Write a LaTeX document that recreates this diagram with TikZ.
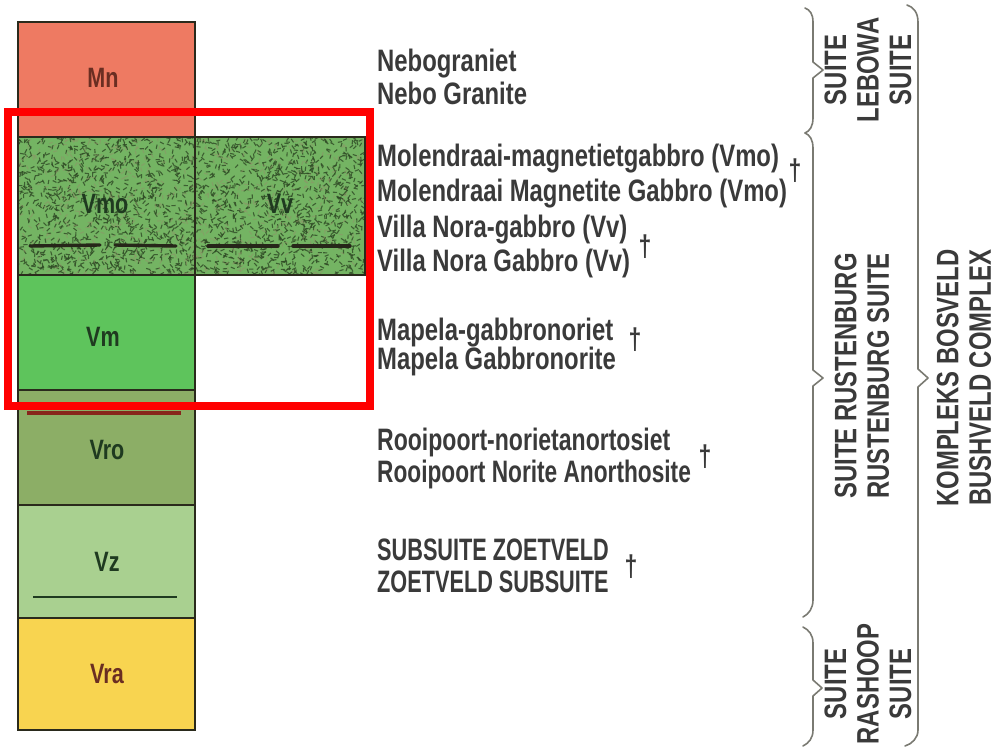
\documentclass[tikz,border=0pt]{standalone}
\usepackage{fontspec}
\setmainfont{Liberation Sans}[FakeStretch=0.77]
\newfontfamily\capsfont{Liberation Sans}[FakeStretch=0.70]
\definecolor{mncol}{HTML}{EE7A62}
\definecolor{vmocol}{HTML}{74B463}
\definecolor{vmcol}{HTML}{5EC45C}
\definecolor{vrocol}{HTML}{8CAE66}
\definecolor{vzcol}{HTML}{A9D090}
\definecolor{vracol}{HTML}{F8D450}
\definecolor{edgecol}{HTML}{2A2A1C}
\definecolor{txtcol}{HTML}{3A3A3A}
\definecolor{greentxt}{HTML}{1F3A20}
\definecolor{browntxt}{HTML}{6A2E22}
\definecolor{bracecol}{HTML}{7A7A72}
\definecolor{speck}{HTML}{2F4A25}
\definecolor{speckb}{HTML}{8E9468}
\tikzset{
  unit/.style={draw=edgecol,line width=2.6pt},
  unitlabel/.style={font=\fontsize{28}{30}\selectfont\bfseries,inner sep=0pt},
  desc/.style={anchor=base west,inner sep=0pt,text=txtcol,font=\fontsize{31}{33}\selectfont\bfseries},
  capdesc/.style={anchor=base west,inner sep=0pt,text=txtcol,font=\fontsize{31}{33}\capsfont\bfseries},
  dag/.style={inner sep=0pt,text=txtcol,font=\fontsize{30}{32}\selectfont\bfseries},
  vert/.style={rotate=90,align=center,inner sep=0pt,text=txtcol,font=\fontsize{31}{32.5}\selectfont\bfseries},
  bracestyle/.style={draw=bracecol,line width=1.6pt,line join=round,line cap=round},
  dashmark/.style={draw=edgecol!90!black,line width=3.4pt,line cap=round},
  texstroke/.style={draw=speck,line width=1.1pt,opacity=0.8},
  texstrokeb/.style={draw=speckb,line width=1pt,opacity=0.6},
  redframe/.style={draw=red,line width=8pt}
}
\begin{document}
\begin{tikzpicture}[x=1pt,y=-1pt]
\useasboundingbox (0,0) rectangle (999,749);
\fill[white] (0,0) rectangle (999,749);
% ---- column fills
\fill[mncol] (18,22) rectangle (195,137);
\fill[vmocol] (18,137) rectangle (365,275);
\fill[vmcol] (18,275) rectangle (195,390);
\fill[vrocol] (18,390) rectangle (195,505);
\fill[vzcol] (18,505) rectangle (195,618);
\fill[vracol] (18,618) rectangle (195,730);
% ---- texture of Vmo / Vv
\begin{scope}
\clip (18,137) rectangle (365,275);
\pgfmathsetseed{4711}
\foreach \i in {1,...,2100}{
  \pgfmathsetmacro\px{18+347*rnd}
  \pgfmathsetmacro\py{137+138*rnd}
  \pgfmathsetmacro\pa{360*rnd}
  \draw[texstroke] (\px,\py) -- ++(\pa:4.2);
}
\foreach \i in {1,...,600}{
  \pgfmathsetmacro\px{18+347*rnd}
  \pgfmathsetmacro\py{137+138*rnd}
  \pgfmathsetmacro\pa{360*rnd}
  \draw[texstrokeb] (\px,\py) -- ++(\pa:4);
}
\end{scope}
% ---- internal marks
\draw[dashmark] (30,246) -- (100,245);
\draw[dashmark] (115,245) -- (176,246);
\draw[dashmark] (208,246) -- (278,246);
\draw[dashmark] (293,246) -- (350,246);
\draw[draw=browntxt!80!red,line width=4pt] (27,413) -- (181,413);
\draw[draw=greentxt,line width=2.6pt] (33,597) -- (177,597);
% ---- unit outlines
\draw[unit] (18,22) rectangle (195,730);
\draw[unit] (195,137) rectangle (365,275);
\foreach \yy in {137,275,390,505,618}{\draw[unit] (18,\yy) -- (195,\yy);}
% ---- unit labels
\node[unitlabel,text=browntxt] (mn) at (103,78) {Mn};
\node[unitlabel,text=greentxt] (vmo) at (105,204) {Vmo};
\node[unitlabel,text=greentxt] (vv) at (280,204) {Vv};
\node[unitlabel,text=greentxt] (vm) at (103,337) {Vm};
\node[unitlabel,text=greentxt] (vro) at (107,450) {Vro};
\node[unitlabel,text=greentxt] (vz) at (107,562) {Vz};
\node[unitlabel,text=browntxt] (vra) at (107,674) {Vra};
% ---- descriptions
\node[desc] (d1) at (377,72) {Nebograniet};
\node[desc] (d2) at (377,105) {Nebo Granite};
\node[desc] (d3) at (377,167) {Molendraai-magnetietgabbro (Vmo)};
\node[desc] (d4) at (377,201) {Molendraai Magnetite Gabbro (Vmo)};
\node[desc] (d5) at (377,237) {Villa Nora-gabbro (Vv)};
\node[desc] (d6) at (377,271) {Villa Nora Gabbro (Vv)};
\node[desc] (d7) at (377,340) {Mapela-gabbronoriet};
\node[desc] (d8) at (377,369) {Mapela Gabbronorite};
\node[desc] (d9) at (377,450) {\scalebox{0.965}[1]{Rooipoort-norietanortosiet}};
\node[desc] (d10) at (377,482) {\scalebox{0.95}[1]{Rooipoort Norite Anorthosite}};
\node[capdesc] (d11) at (377,560) {SUBSUITE ZOETVELD};
\node[capdesc] (d12) at (377,592) {ZOETVELD SUBSUITE};
% ---- daggers
\node[dag] (g1) at (795,171) {†};
\node[dag] (g2) at (645,247) {†};
\node[dag] (g3) at (635,340) {†};
\node[dag] (g4) at (705,457) {†};
\node[dag] (g5) at (631,567) {†};
% ---- braces
\coordinate (b1a) at (805,8);
\coordinate (b1t) at (823,70);
\coordinate (b1b) at (805,133);
\coordinate (b2t) at (823,378);
\coordinate (b2b) at (803,617);
\coordinate (b3a) at (803,627);
\coordinate (b3t) at (822,688);
\coordinate (b3b) at (803,746);
\coordinate (b4a) at (907,5);
\coordinate (b4t) at (928,378);
\coordinate (b4b) at (905,746);
\draw[bracestyle] (b1a) .. controls (810,10) and (813,14) .. (813,22) -- (813,62) -- (b1t) -- (813,78) -- (813,118) .. controls (813,126) and (810,131) .. (b1b);
\draw[bracestyle] (b1b) .. controls (810,135) and (813,140) .. (813,148) -- (813,370) -- (b2t) -- (813,386) -- (813,600) .. controls (813,608) and (809,614) .. (b2b);
\draw[bracestyle] (b3a) .. controls (809,630) and (813,635) .. (813,643) -- (813,680) -- (b3t) -- (813,696) -- (813,730) .. controls (813,738) and (809,743) .. (b3b);
\draw[bracestyle] (b4a) .. controls (913,7) and (918,12) .. (918,22) -- (918,369) -- (b4t) -- (918,387) -- (918,730) .. controls (918,738) and (912,744) .. (b4b);
% ---- vertical labels
\node[vert] (lebowa) at (868,70) {SUITE\\LEBOWA\\SUITE};
\node[vert] (rust) at (862,376) {SUITE RUSTENBURG\\RUSTENBURG SUITE};
\node[vert] (bush) at (964,378) {KOMPLEKS BOSVELD\\BUSHVELD COMPLEX};
\node[vert] (rash) at (868,684) {SUITE\\RASHOOP\\SUITE};
% ---- red highlight frame
\draw[redframe] (8,112) rectangle (370,406);
\end{tikzpicture}
\end{document}
